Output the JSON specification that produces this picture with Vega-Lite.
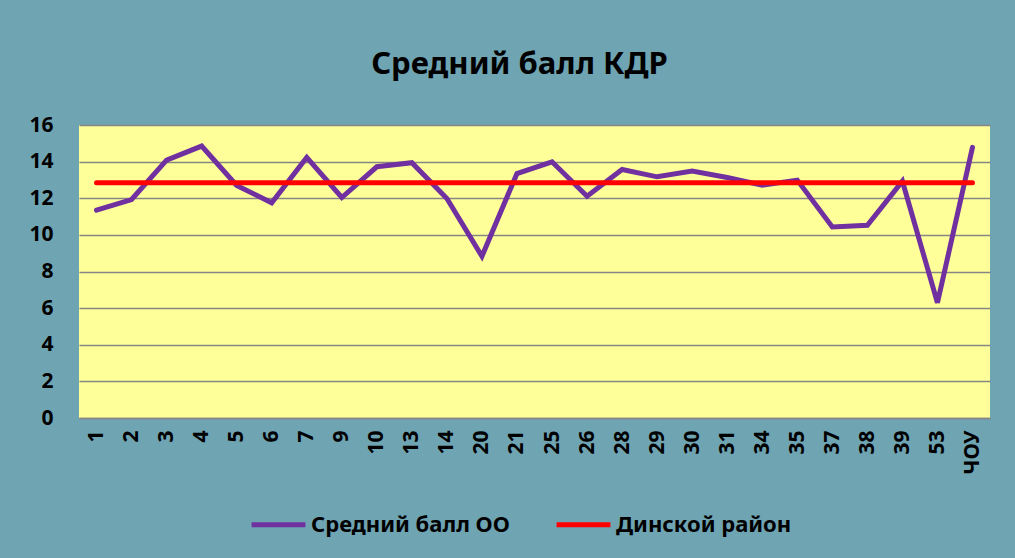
{
  "$schema": "https://vega.github.io/schema/vega-lite/v6.json",
  "width": 911,
  "height": 293,
  "autosize": {"type": "none"},
  "padding": {"left": 79, "top": 125, "right": 25, "bottom": 140},
  "background": "#6fa4b3",
  "title": {
    "text": "Средний балл КДР",
    "font": "Noto Sans",
    "fontSize": 31,
    "fontWeight": "bold",
    "color": "#000000",
    "anchor": "middle",
    "offset": 33,
    "dx": -15
  },
  "data": {
    "values": [
      {"school": "1", "series": "Средний балл ОО", "score": 11.35},
      {"school": "2", "series": "Средний балл ОО", "score": 11.93},
      {"school": "3", "series": "Средний балл ОО", "score": 14.08},
      {"school": "4", "series": "Средний балл ОО", "score": 14.85},
      {"school": "5", "series": "Средний балл ОО", "score": 12.7},
      {"school": "6", "series": "Средний балл ОО", "score": 11.75},
      {"school": "7", "series": "Средний балл ОО", "score": 14.23},
      {"school": "9", "series": "Средний балл ОО", "score": 12.04},
      {"school": "10", "series": "Средний балл ОО", "score": 13.72},
      {"school": "13", "series": "Средний балл ОО", "score": 13.94},
      {"school": "14", "series": "Средний балл ОО", "score": 11.99},
      {"school": "20", "series": "Средний балл ОО", "score": 8.83},
      {"school": "21", "series": "Средний балл ОО", "score": 13.35},
      {"school": "25", "series": "Средний балл ОО", "score": 13.99},
      {"school": "26", "series": "Средний балл ОО", "score": 12.11},
      {"school": "28", "series": "Средний балл ОО", "score": 13.57},
      {"school": "29", "series": "Средний балл ОО", "score": 13.17},
      {"school": "30", "series": "Средний балл ОО", "score": 13.48},
      {"school": "31", "series": "Средний балл ОО", "score": 13.13},
      {"school": "34", "series": "Средний балл ОО", "score": 12.71},
      {"school": "35", "series": "Средний балл ОО", "score": 12.99},
      {"school": "37", "series": "Средний балл ОО", "score": 10.43},
      {"school": "38", "series": "Средний балл ОО", "score": 10.52},
      {"school": "39", "series": "Средний балл ОО", "score": 12.93},
      {"school": "53", "series": "Средний балл ОО", "score": 6.29},
      {"school": "ЧОУ", "series": "Средний балл ОО", "score": 14.78},
      {"school": "1", "series": "Динской район", "score": 12.84},
      {"school": "2", "series": "Динской район", "score": 12.84},
      {"school": "3", "series": "Динской район", "score": 12.84},
      {"school": "4", "series": "Динской район", "score": 12.84},
      {"school": "5", "series": "Динской район", "score": 12.84},
      {"school": "6", "series": "Динской район", "score": 12.84},
      {"school": "7", "series": "Динской район", "score": 12.84},
      {"school": "9", "series": "Динской район", "score": 12.84},
      {"school": "10", "series": "Динской район", "score": 12.84},
      {"school": "13", "series": "Динской район", "score": 12.84},
      {"school": "14", "series": "Динской район", "score": 12.84},
      {"school": "20", "series": "Динской район", "score": 12.84},
      {"school": "21", "series": "Динской район", "score": 12.84},
      {"school": "25", "series": "Динской район", "score": 12.84},
      {"school": "26", "series": "Динской район", "score": 12.84},
      {"school": "28", "series": "Динской район", "score": 12.84},
      {"school": "29", "series": "Динской район", "score": 12.84},
      {"school": "30", "series": "Динской район", "score": 12.84},
      {"school": "31", "series": "Динской район", "score": 12.84},
      {"school": "34", "series": "Динской район", "score": 12.84},
      {"school": "35", "series": "Динской район", "score": 12.84},
      {"school": "37", "series": "Динской район", "score": 12.84},
      {"school": "38", "series": "Динской район", "score": 12.84},
      {"school": "39", "series": "Динской район", "score": 12.84},
      {"school": "53", "series": "Динской район", "score": 12.84},
      {"school": "ЧОУ", "series": "Динской район", "score": 12.84}
    ]
  },
  "encoding": {
    "x": {
      "field": "school",
      "type": "ordinal",
      "sort": null,
      "scale": {"type": "point", "padding": 0.5},
      "axis": {
        "title": null,
        "labelAngle": -90,
        "labelFont": "Noto Sans",
        "labelFontSize": 21,
        "labelFontWeight": "bold",
        "labelColor": "#000000",
        "labelPadding": 12,
        "ticks": false,
        "grid": false,
        "domain": true,
        "domainColor": "#868686",
        "domainWidth": 1.5
      }
    },
    "y": {
      "field": "score",
      "type": "quantitative",
      "scale": {"domain": [0, 16], "nice": false},
      "axis": {
        "title": null,
        "values": [0, 2, 4, 6, 8, 10, 12, 14, 16],
        "labelFont": "Noto Sans",
        "labelFontSize": 21,
        "labelFontWeight": "bold",
        "labelColor": "#000000",
        "labelPadding": 26,
        "ticks": false,
        "domain": false,
        "grid": true,
        "gridColor": "#868686",
        "gridWidth": 1.5
      }
    },
    "color": {
      "field": "series",
      "type": "nominal",
      "scale": {
        "domain": ["Средний балл ОО", "Динской район"],
        "range": ["#7030A0", "#FF0000"]
      },
      "legend": {
        "title": null,
        "orient": "none",
        "legendX": 170,
        "legendY": 370,
        "direction": "horizontal",
        "symbolType": "stroke",
        "symbolSize": 2900,
        "symbolStrokeWidth": 5,
        "labelFont": "Noto Sans",
        "labelFontSize": 22,
        "labelFontWeight": "bold",
        "labelColor": "#000000",
        "labelOffset": 3,
        "labelLimit": 0,
        "columnPadding": 36
      }
    }
  },
  "layer": [
    {
      "transform": [{"filter": "datum.series === 'Средний балл ОО'"}],
      "mark": {"type": "line", "strokeWidth": 5, "strokeJoin": "miter", "strokeCap": "round"}
    },
    {
      "transform": [{"filter": "datum.series === 'Динской район'"}],
      "mark": {"type": "line", "strokeWidth": 5, "strokeCap": "round"}
    }
  ],
  "config": {
    "view": {"fill": "#FFFF99", "stroke": null}
  }
}
